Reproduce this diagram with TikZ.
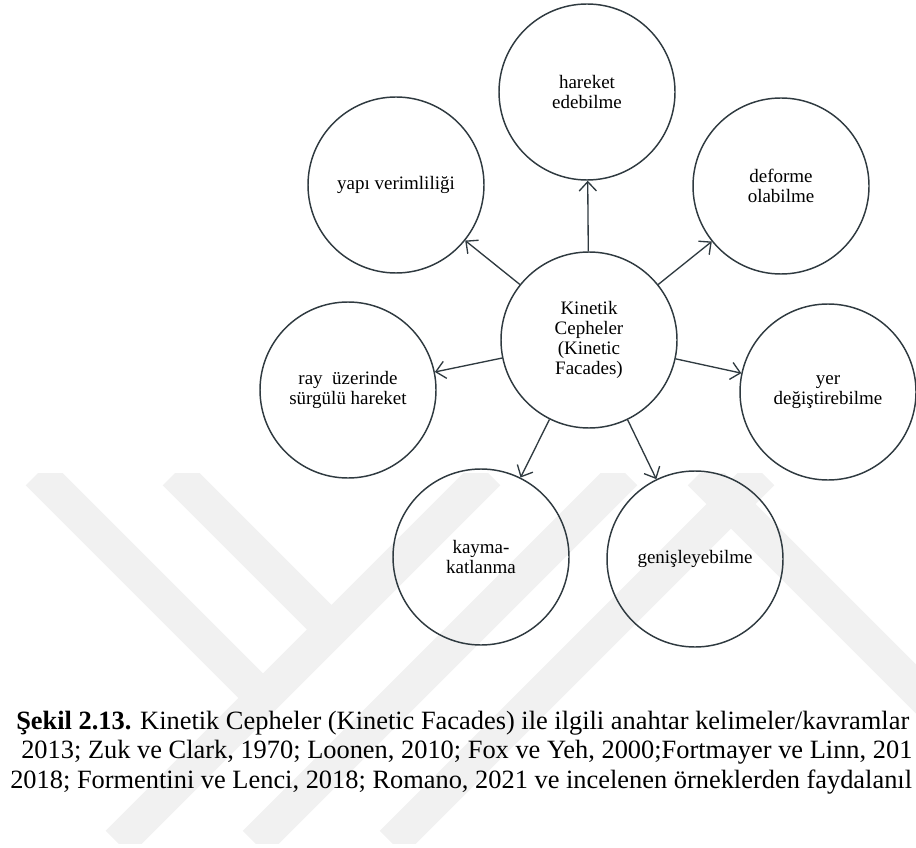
\documentclass[tikz,border=0pt]{standalone}
\usepackage{fontspec}
\setmainfont{Liberation Serif}
\usetikzlibrary{arrows.meta}
\definecolor{ink}{RGB}{47,58,64}
\definecolor{wmark}{RGB}{241,241,241}

\begin{document}
\begin{tikzpicture}[x=0.75pt, y=-0.75pt, >={Straight Barb[length=7pt,width=13pt]},
    concept/.style={circle, draw=ink, line width=1.1pt, minimum size=132pt, inner sep=0pt, align=center, font=\fontsize{14.25}{15}\selectfont},
    edge/.style={->, line width=1pt, draw=ink},
    band/.style={line width=26pt, draw=wmark},
    caption/.style={anchor=base west, inner sep=0pt, font=\fontsize{19.8}{22}\selectfont}]

\useasboundingbox (0,0) rectangle (916,848);

% faint watermark behind the figure
\begin{scope}
  \clip (0,473) rectangle (916,843);
  \draw[band] (38,473) -- (265,700);
  \draw[band] (175,473) -- (330,628);
  \draw[band] (118,843) -- (488,473);
  \draw[band] (255,843) -- (625,473);
  \draw[band] (392,843) -- (762,473);
  \draw[band] (700,473) -- (1070,843);
\end{scope}

\node [concept] (hub) at (589,340) {Kinetik\\Cepheler\\(Kinetic\\Facades)};
\node [concept] (hareket) at (587,92) {hareket\\edebilme};
\node [concept] (yapi) at (396,185) {yapı verimliliği};
\node [concept] (deforme) at (781,186) {deforme\\olabilme};
\node [concept] (ray) at (348,390) {ray\ \ üzerinde\\sürgülü hareket};
\node [concept] (yer) at (828,392) {yer\\değiştirebilme};
\node [concept] (kayma) at (481,557) {kayma-\\katlanma};
\node [concept] (genis) at (695,559) {genişleyebilme};

\draw [edge] (hub) -- (hareket);
\draw [edge] (hub) -- (yapi);
\draw [edge] (hub) -- (deforme);
\draw [edge] (hub) -- (ray);
\draw [edge] (hub) -- (yer);
\draw [edge] (hub) -- (kayma);
\draw [edge] (hub) -- (genis);

% caption, cut at the right edge
\begin{scope}
  \clip (0,0) rectangle (916,848);
  \node [caption] (cap1) at (16,729) {\textbf{Şekil 2.13.} Kinetik Cepheler (Kinetic Facades) ile ilgili anahtar kelimeler/kavramlar};
  \node [caption] (cap2) at (21,758) {2013; Zuk ve Clark, 1970; Loonen, 2010; Fox ve Yeh, 2000;Fortmayer ve Linn, 201};
  \node [caption] (cap3) at (10,788) {2018; Formentini ve Lenci, 2018; Romano, 2021 ve incelenen örneklerden faydalanıl};
\end{scope}

\end{tikzpicture}
\end{document}
